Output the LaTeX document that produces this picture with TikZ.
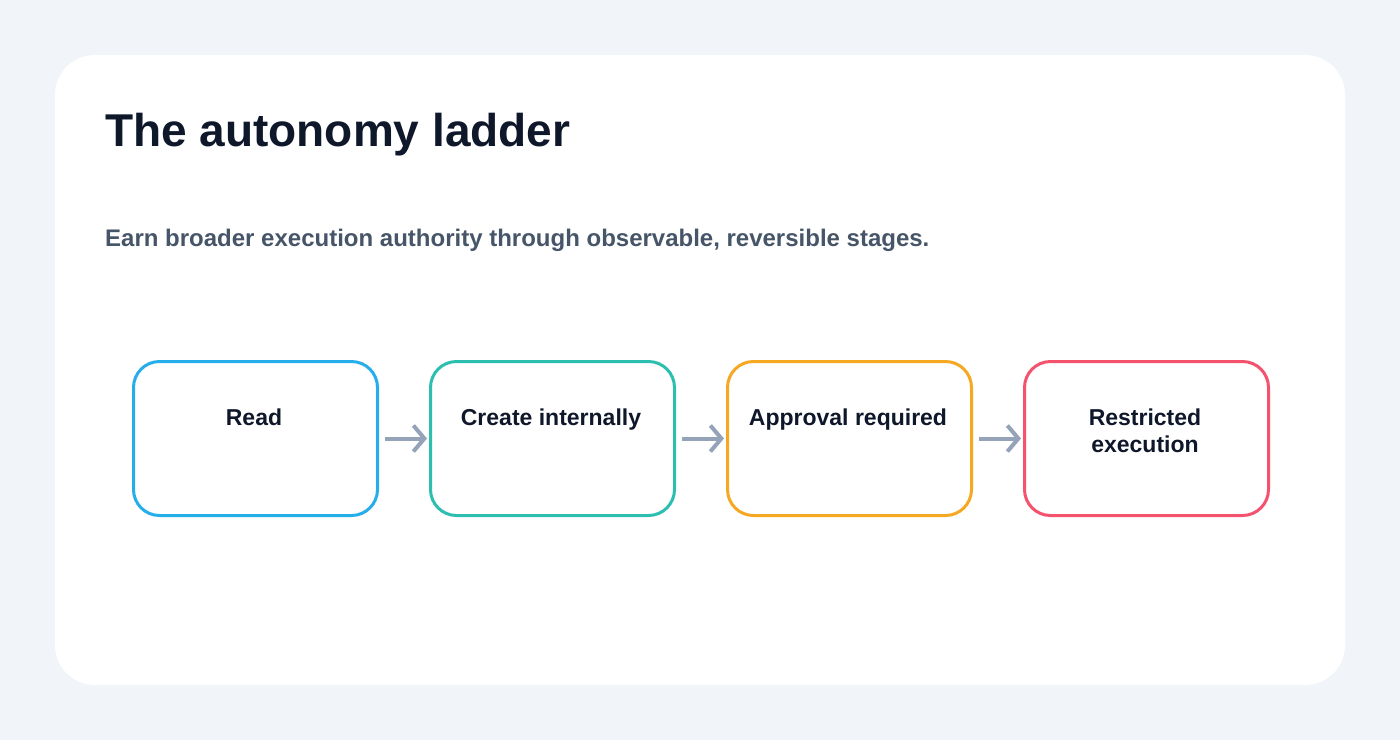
\documentclass[tikz,border=0pt]{standalone}
\usepackage{fontspec}
\setmainfont{Liberation Sans}
\usetikzlibrary{arrows.meta}
\definecolor{bg}{HTML}{F1F5F9}
\definecolor{ink}{HTML}{0F172A}
\definecolor{sub}{HTML}{475569}
\definecolor{arr}{HTML}{94A3B8}
\definecolor{cA}{HTML}{0EA5E9}
\definecolor{cB}{HTML}{14B8A6}
\definecolor{cC}{HTML}{F59E0B}
\definecolor{cD}{HTML}{F43F5E}
\begin{document}
\begin{tikzpicture}[x=1pt,y=-1pt,
  stage/.style={draw=#1!90!white, line width=3pt, rounded corners=26pt, minimum width=244pt, minimum height=154pt, anchor=north west, inner sep=0pt},
  lbl/.style={font=\fontsize{23}{27}\selectfont\bfseries, text=ink, align=center, anchor=base},
  flow/.style={draw=arr, line width=4pt, -{Straight Barb[length=11pt,width=26pt,line width=4pt]}}]
\fill[bg] (0,0) rectangle (1400,740);
\useasboundingbox (0,0) rectangle (1400,740);
\fill[white, rounded corners=40pt] (55,55) rectangle (1345,685);
\node[anchor=base west, inner sep=0pt, font=\fontsize{46}{52}\selectfont\bfseries, text=ink] (title) at (105,146) {The autonomy ladder};
\node[anchor=base west, inner sep=0pt, font=\fontsize{24}{28}\selectfont\bfseries, text=sub] (subtitle) at (105,246) {Earn broader execution authority through observable, reversible stages.};
\node[stage=cA] (s1) at (132,360) {};
\node[stage=cB] (s2) at (429,360) {};
\node[stage=cC] (s3) at (726,360) {};
\node[stage=cD] (s4) at (1023,360) {};
\node[lbl] (l1) at (254,425) {Read};
\node[lbl] (l2) at (551,425) {Create internally};
\node[lbl] (l3) at (848,425) {Approval required};
\node[lbl] (l4) at (1145,452) {Restricted\\execution};
\draw[flow] ([xshift=6pt]s1.east) -- ([xshift=-2pt]s2.west);
\draw[flow] ([xshift=6pt]s2.east) -- ([xshift=-2pt]s3.west);
\draw[flow] ([xshift=6pt]s3.east) -- ([xshift=-2pt]s4.west);
\end{tikzpicture}
\end{document}
